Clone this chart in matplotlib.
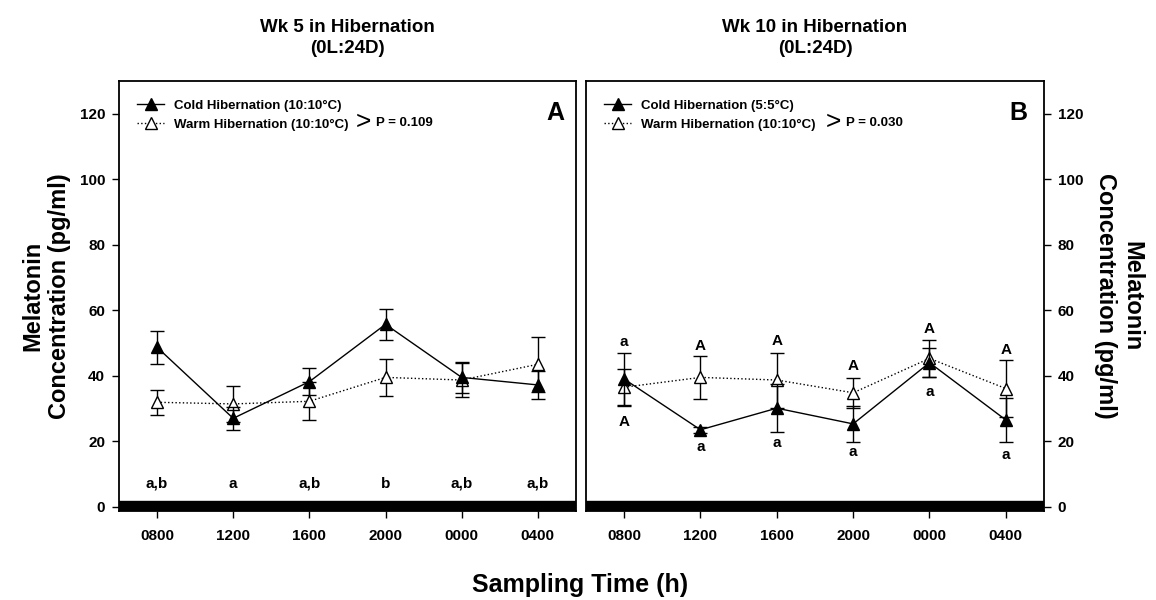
import numpy as np
import matplotlib.pyplot as plt
from matplotlib.lines import Line2D

plt.rcParams['font.family'] = ['Liberation Sans', 'DejaVu Sans']
plt.rcParams['font.weight'] = 'bold'

times = ['0800', '1200', '1600', '2000', '0000', '0400']

# panel A - week 5
cold_a = [48.7, 27.0, 38.2, 55.7, 39.5, 37.2]
cold_a_err = [5.1, 3.6, 4.1, 4.8, 4.8, 4.4]
warm_a = [31.9, 31.4, 32.2, 39.5, 38.7, 43.5]
warm_a_err = [3.9, 5.6, 5.8, 5.6, 5.3, 8.4]
letters_a = ['a,b', 'a', 'a,b', 'b', 'a,b', 'a,b']
letters_a_y = [7, 7, 7, 7, 7, 7]

# panel B - week 10
cold_b = [39.0, 23.5, 30.1, 25.3, 44.0, 26.5]
cold_b_err = [7.8, 1.0, 7.3, 5.4, 4.4, 6.8]
warm_b = [36.5, 39.5, 38.7, 34.8, 45.3, 36.1]
warm_b_err = [5.6, 6.6, 8.4, 4.6, 5.6, 8.7]
upper_b = ['a', 'A', 'A', 'A', 'A', 'A']
upper_b_y = [50.3, 49.0, 50.6, 42.9, 54.4, 48.0]
lower_b = ['A', 'a', 'a', 'a', 'a', 'a']
lower_b_y = [26.0, 18.2, 19.6, 16.8, 34.9, 15.8]

x = np.arange(len(times))

fig = plt.figure(figsize=(11.56, 6), dpi=100)
axA = fig.add_axes([0.1029, 0.1483, 0.3953, 0.7167])
axB = fig.add_axes([0.5069, 0.1483, 0.3962, 0.7167])


def draw(ax, cold, cold_err, warm, warm_err, cold_lab):
    ax.errorbar(x, warm, yerr=warm_err, color='black', ls=':', lw=1.0,
                marker='^', mfc='white', mec='black', ms=9, capsize=5,
                elinewidth=1.0, capthick=1.0, zorder=3)
    ax.errorbar(x, cold, yerr=cold_err, color='black', ls='-', lw=1.0,
                marker='^', mfc='black', mec='black', ms=9, capsize=5,
                elinewidth=1.0, capthick=1.0, zorder=4)
    ax.set_xlim(-0.5, 5.5)
    ax.set_ylim(-1.3, 130)
    ax.axhspan(-1.3, 1.8, color='black', zorder=5)
    ax.set_xticks(x)
    ax.set_xticklabels(times)
    ax.set_yticks(np.arange(0, 121, 20))
    ax.tick_params(labelsize=11, length=5, width=1, pad=5)
    ax.tick_params(axis='x', pad=8)
    for s in ax.spines.values():
        s.set_linewidth(1.3)
    handles = [Line2D([], [], color='black', ls='-', lw=1.0, marker='^',
                      mfc='black', ms=8),
               Line2D([], [], color='black', ls=':', lw=1.0, marker='^',
                      mfc='white', mec='black', ms=8)]
    ax.legend(handles, [cold_lab, 'Warm Hibernation (10:10\u00b0C)'],
              loc='upper left', frameon=False, fontsize=9.5, handlelength=2.0,
              handletextpad=0.8, labelspacing=0.5, borderaxespad=1.0)


draw(axA, cold_a, cold_a_err, warm_a, warm_a_err, 'Cold Hibernation (10:10\u00b0C)')
draw(axB, cold_b, cold_b_err, warm_b, warm_b_err, 'Cold Hibernation (5:5\u00b0C)')

axB.yaxis.tick_right()

for i, t in enumerate(letters_a):
    axA.text(x[i], letters_a_y[i], t, ha='center', va='center', fontsize=11)
for i, t in enumerate(upper_b):
    axB.text(x[i], upper_b_y[i], t, ha='center', va='center', fontsize=11)
for i, t in enumerate(lower_b):
    axB.text(x[i], lower_b_y[i], t, ha='center', va='center', fontsize=11)

axA.text(0.518, 0.905, '>', transform=axA.transAxes, ha='left', va='center',
         fontsize=19, fontweight='normal')
axA.text(0.562, 0.902, 'P = 0.109', transform=axA.transAxes, ha='left',
         va='center', fontsize=9.5)
axB.text(0.523, 0.905, '>', transform=axB.transAxes, ha='left', va='center',
         fontsize=19, fontweight='normal')
axB.text(0.567, 0.902, 'P = 0.030', transform=axB.transAxes, ha='left',
         va='center', fontsize=9.5)

axA.text(0.954, 0.926, 'A', transform=axA.transAxes, ha='center', va='center',
         fontsize=18)
axB.text(0.945, 0.926, 'B', transform=axB.transAxes, ha='center', va='center',
         fontsize=18)

axA.text(0.5, 1.1, 'Wk 5 in Hibernation\n(0L:24D)', transform=axA.transAxes,
         ha='center', va='center', fontsize=13.5, linespacing=1.3)
axB.text(0.5, 1.1, 'Wk 10 in Hibernation\n(0L:24D)', transform=axB.transAxes,
         ha='center', va='center', fontsize=13.5, linespacing=1.3)

ylab = 'Melatonin\nConcentration (pg/ml)'
fig.text(46 / 1156, 1 - 296 / 600, ylab, rotation=90, ha='center',
         va='center', fontsize=17, linespacing=1.2, multialignment='center')
fig.text(1119 / 1156, 1 - 296 / 600, ylab, rotation=270, ha='center',
         va='center', fontsize=17, linespacing=1.2, multialignment='center')
fig.text(580 / 1156, 1 - 585 / 600, 'Sampling Time (h)', ha='center',
         va='center', fontsize=18)

fig.savefig('out.png', dpi=100)
